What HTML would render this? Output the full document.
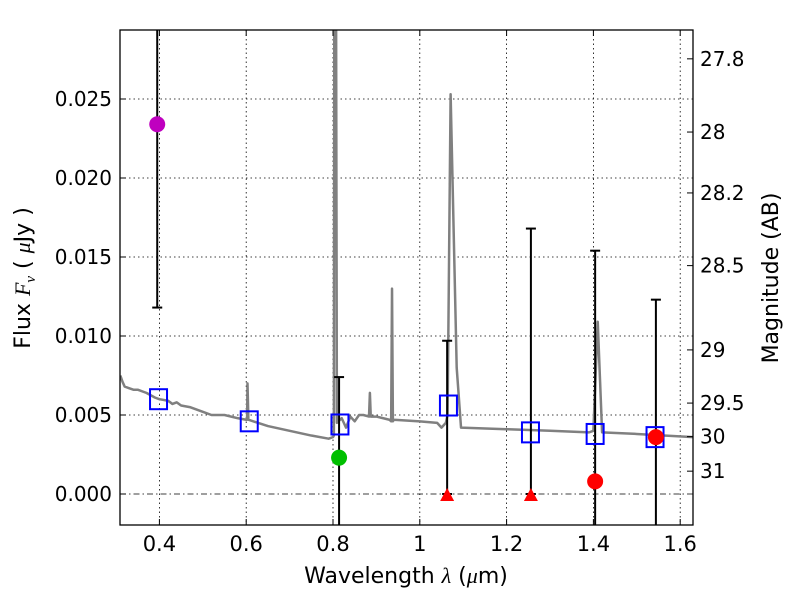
<!DOCTYPE html>
<html><head><meta charset="utf-8"><style>
html,body{margin:0;background:#fff;overflow:hidden;width:800px;height:600px;}
svg{display:block;font-family:"DejaVu Sans","Liberation Sans",sans-serif;}
</style></head><body>
<svg id="chart" width="800" height="600">
<defs><clipPath id="clip"><rect x="120" y="30" width="573" height="495"/></clipPath></defs>
<rect x="120" y="30" width="573" height="495" fill="#fff"/>
<g id="grid"></g>
<g id="spec" clip-path="url(#clip)"></g>
<g id="marks" clip-path="url(#clip)"></g>
<rect x="120" y="30" width="573" height="495" fill="none" stroke="#000" stroke-width="1.3"/>
<g id="axes"></g>
<text x="406" y="583" font-size="22" text-anchor="middle">Wavelength  <tspan font-style="italic" font-family="Liberation Serif">λ</tspan> (<tspan font-style="italic" font-family="Liberation Serif">μ</tspan>m)</text>
<text transform="translate(30,278) rotate(-90)" font-size="22" text-anchor="middle">Flux  <tspan font-style="italic" font-family="Liberation Serif">F</tspan><tspan font-style="italic" font-family="Liberation Serif" font-size="15" dy="5">ν</tspan><tspan dy="-5">  ( </tspan><tspan font-style="italic" font-family="Liberation Serif">μ</tspan>Jy )</text>
<text transform="translate(778,278) rotate(-90)" font-size="22" text-anchor="middle">Magnitude (AB)</text>
</svg>
<script>
const xTicks=[0.4,0.6,0.8,1.0,1.2,1.4,1.6];
const xTickLabels=["0.4","0.6","0.8","1","1.2","1.4","1.6"];
const yTicks=[0,0.005,0.010,0.015,0.020,0.025];
const yTickLabels=["0.000","0.005","0.010","0.015","0.020","0.025"];
const magTicks=[27.8,28,28.2,28.5,29,29.5,30,31];
const magTickLabels=["27.8","28","28.2","28.5","29","29.5","30","31"];
const specLam=[0.31,0.315,0.32,0.33,0.34,0.35,0.37,0.39,0.40,0.42,0.43,0.44,0.45,0.47,0.50,0.52,0.55,0.58,0.60,0.602,0.603,0.605,0.65,0.70,0.75,0.79,0.80,0.802,0.803,0.807,0.809,0.82,0.83,0.84,0.85,0.86,0.87,0.883,0.885,0.887,0.90,0.93,0.934,0.936,0.938,0.94,1.0,1.04,1.05,1.06,1.064,1.071,1.085,1.095,1.2,1.3,1.39,1.40,1.41,1.42,1.5,1.63];
const specFlux=[0.0075,0.0071,0.0068,0.0067,0.0066,0.0066,0.0064,0.0061,0.0060,0.0059,0.0057,0.0058,0.0056,0.0055,0.0052,0.0050,0.0050,0.0048,0.0047,0.0047,0.0070,0.0047,0.0043,0.0040,0.0037,0.0035,0.0036,0.0037,0.032,0.032,0.0045,0.0048,0.0042,0.0049,0.0046,0.0050,0.0050,0.0049,0.0064,0.0049,0.0049,0.0047,0.0046,0.0130,0.0046,0.0047,0.0046,0.0045,0.0042,0.0045,0.0050,0.0253,0.0080,0.0042,0.0041,0.0040,0.0039,0.0040,0.0109,0.0039,0.0038,0.0036];
const modelLam=[0.398,0.607,0.816,1.066,1.255,1.404,1.542];
const modelFlux=[0.0060,0.0046,0.0044,0.0056,0.0039,0.0038,0.0036];
const obsLam=[0.395,0.814,1.063,1.256,1.404,1.544];
const obsFlux=[0.0234,0.0023,0,0,0.0008,0.0036];
const obsErrLo=[0.0118,-0.01,0,0,-0.01,-0.01];
const obsErrHi=[0.05,0.0074,0.0097,0.0168,0.0154,0.0123];
const obsColor=["#bf00bf","#00bf00","#ff0000","#ff0000","#ff0000","#ff0000"];
const obsShape=["circle","circle","triangle","triangle","circle","circle"];

const NS="http://www.w3.org/2000/svg";
const X=l=>333+(l-0.8)*434;
const Y=f=>494-f*15800;
function mk(tag,attrs,parent){const e=document.createElementNS(NS,tag);for(const k in attrs)e.setAttribute(k,attrs[k]);parent.appendChild(e);return e;}
const grid=document.getElementById('grid'),axes=document.getElementById('axes');
xTicks.forEach((t,i)=>{
 const l=mk('line',{x1:X(t),x2:X(t),y1:30,y2:525,stroke:'#000','stroke-width':0.8,'stroke-dasharray':'1.5,3'},grid);
 
 
 mk('line',{x1:X(t),x2:X(t),y1:525,y2:519,stroke:'#000'},axes);
 mk('line',{x1:X(t),x2:X(t),y1:30,y2:36,stroke:'#000'},axes);
 const tx=mk('text',{x:X(t),y:551,'font-size':21,'text-anchor':'middle'},axes);tx.textContent=xTickLabels[i];
 
 
});
yTicks.forEach((t,i)=>{
 const l=mk('line',{x1:120,x2:693,y1:Y(t),y2:Y(t),stroke:'#000','stroke-width':0.8,'stroke-dasharray':t===0?'6,3,1.5,3':'1.5,3'},grid);
 
 
 mk('line',{x1:120,x2:126,y1:Y(t),y2:Y(t),stroke:'#000'},axes);
 const tx=mk('text',{x:112,y:Y(t)+7,'font-size':20,'text-anchor':'end'},axes);tx.textContent=yTickLabels[i];
 
 
});
magTicks.forEach((m,i)=>{
 const f=Math.pow(10,(23.9-m)/2.5);const y=Y(f);
 mk('line',{x1:687,x2:693,y1:y,y2:y,stroke:'#000'},axes);
 const tx=mk('text',{x:700,y:y+7,'font-size':20},axes);tx.textContent=magTickLabels[i];
 
 
});
const sp=mk('polyline',{points:specLam.map((l,i)=>X(l)+','+Y(specFlux[i])).join(' '),fill:'none',stroke:'#808080','stroke-width':2.5,'stroke-linejoin':'round'},document.getElementById('spec'));


const marks=document.getElementById('marks');
obsLam.forEach((l,i)=>{
 const x=X(l);
 const eb=mk('line',{x1:x,x2:x,y1:Y(obsErrLo[i]),y2:Y(obsErrHi[i]),stroke:'#000','stroke-width':2},marks);
 
 
 mk('line',{x1:x-5,x2:x+5,y1:Y(obsErrHi[i]),y2:Y(obsErrHi[i]),stroke:'#000','stroke-width':2},marks);
 mk('line',{x1:x-5,x2:x+5,y1:Y(obsErrLo[i]),y2:Y(obsErrLo[i]),stroke:'#000','stroke-width':2},marks);
});
modelLam.forEach((l,i)=>{
 const r=mk('rect',{x:X(l)-8.5,y:Y(modelFlux[i])-10,width:17,height:20,fill:'none',stroke:'#0000ff','stroke-width':2},marks);
 
 
});
obsLam.forEach((l,i)=>{
 const x=X(l),y=Y(obsFlux[i]);let e;
 if(obsShape[i]==='circle'){e=mk('ellipse',{cx:x,cy:y,rx:8,ry:8,fill:obsColor[i]},marks);}
 else{e=mk('polygon',{points:`${x-7},${y+7} ${x+7},${y+7} ${x},${y-6}`,fill:obsColor[i]},marks);}
 
 
});
</script>
</body></html>
